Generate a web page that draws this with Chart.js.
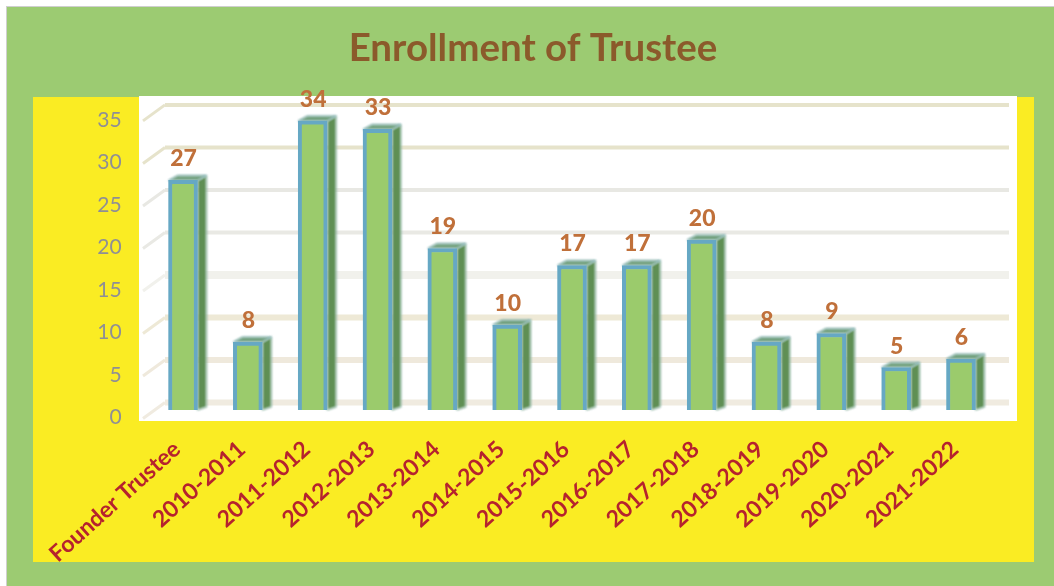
<!DOCTYPE html>
<html>
<head>
<meta charset="utf-8">
<title>Enrollment of Trustee</title>
<script src="https://cdn.jsdelivr.net/npm/chart.js@4"></script>
<style>
    html, body { margin: 0; padding: 0; background: #fff; }
    #page { position: relative; width: 1054px; height: 586px; overflow: hidden; }
    #page div { position: absolute; }
    #green { left: 6px; top: 6px; right: -2px; bottom: -2px; background: #9ccb72; border: 1px solid #cfcfcf; }
    #yellow { left: 33px; top: 97px; width: 1001px; height: 465px; background: #faec23; }
    #white { left: 139px; top: 96px; width: 878px; height: 325px; background: #fff; }
    canvas { position: absolute; left: 0; top: 0; }
</style>
</head>
<body>
<div id="page">
    <div id="green"></div>
    <div id="yellow"></div>
    <div id="white"></div>
    <canvas id="chart" width="1054" height="586"></canvas>
</div>
<script>
const categories = ['Founder Trustee', '2010-2011', '2011-2012', '2012-2013', '2013-2014', '2014-2015', '2015-2016',
    '2016-2017', '2017-2018', '2018-2019', '2019-2020', '2020-2021', '2021-2022'];
const trustees = [27, 8, 34, 33, 19, 10, 17, 17, 20, 8, 9, 5, 6];
const gridColors = ['#f0ebe0', '#efe9dc', '#eee9d6', '#f1f1ec', '#e9e9e4', '#e8e8e3', '#e6e3cb', '#e6e3cb'];
const gridWidths = [6, 6, 6, 8, 4, 4, 4, 4];

// fake 3D look: back wall lines, bar sides and value labels
const wallPlugin = {
    id: 'wall',
    beforeDatasetsDraw(chart) {
        const { ctx } = chart;
        const scale = chart.scales.y;
        ctx.save();
        ctx.filter = 'blur(0.7px)';
        scale.ticks.forEach((tick, i) => {
            const y = scale.getPixelForValue(tick.value);
            ctx.strokeStyle = gridColors[i];
            ctx.lineWidth = 3;
            ctx.beginPath();
            ctx.moveTo(143, y + 1);
            ctx.lineTo(165, y - 15);
            ctx.stroke();
            ctx.lineWidth = gridWidths[i];
            ctx.beginPath();
            ctx.moveTo(165, y - 15);
            ctx.lineTo(1009, y - 15);
            ctx.stroke();
        });
        ctx.restore();

        const bars = chart.getDatasetMeta(0).data;
        ctx.save();
        ctx.filter = 'blur(0.8px)';
        bars.forEach(bar => {
            const w = bar.width / 2;
            const left = bar.x - w;
            const right = bar.x + w;
            // side face
            ctx.fillStyle = '#5f8f54';
            ctx.strokeStyle = '#b4d2d6';
            ctx.lineWidth = 1;
            ctx.beginPath();
            ctx.moveTo(right, bar.y);
            ctx.lineTo(right + 9, bar.y - 5);
            ctx.lineTo(right + 9, bar.base - 3);
            ctx.lineTo(right, bar.base);
            ctx.closePath();
            ctx.fill();
            ctx.stroke();
            // top face
            ctx.fillStyle = '#72a07a';
            ctx.strokeStyle = '#8fbcc8';
            ctx.beginPath();
            ctx.moveTo(left, bar.y);
            ctx.lineTo(left + 9, bar.y - 5);
            ctx.lineTo(right + 9, bar.y - 5);
            ctx.lineTo(right, bar.y);
            ctx.closePath();
            ctx.fill();
            ctx.stroke();
        });
        ctx.restore();
        ctx.filter = 'blur(0.7px)';
    },
    afterDatasetsDraw(chart) {
        const { ctx } = chart;
        ctx.filter = 'none';
        ctx.save();
        ctx.font = '900 23px Lato';
        ctx.fillStyle = '#c0703a';
        ctx.textAlign = 'center';
        ctx.textBaseline = 'alphabetic';
        chart.getDatasetMeta(0).data.forEach((bar, i) => {
            ctx.fillText(trustees[i], bar.x + 0.5, bar.y - 14);
        });
        ctx.restore();
    }
};

new Chart(document.getElementById('chart'), {
    type: 'bar',
    data: {
        labels: categories,
        datasets: [{
            data: trustees,
            yAxisID: 'bars',
            backgroundColor: '#9bcb6c',
            borderColor: '#66a8c4',
            borderWidth: 4,
            barThickness: 29
        }]
    },
    options: {
        responsive: false,
        animation: false,
        layout: { padding: { left: 72.6, right: 60.6, top: 0, bottom: 0 } },
        plugins: {
            legend: { display: false },
            tooltip: { enabled: false },
            title: {
                display: true,
                text: 'Enrollment of Trustee',
                color: '#8b5a2b',
                font: { family: 'Lato', size: 38.5, weight: 'bold', lineHeight: 1.2 },
                padding: { top: 25, bottom: 48.7 }
            }
        },
        scales: {
            x: {
                grid: { display: false },
                border: { display: false },
                afterFit(scale) {
                    scale.height = 168.5;
                    scale.paddingLeft = 0;
                    scale.paddingRight = 0;
                },
                ticks: {
                    autoSkip: false,
                    minRotation: 42,
                    maxRotation: 42,
                    padding: 10,
                    labelOffset: -6,
                    color: '#b5222e',
                    font: { family: 'Lato', size: 23, weight: 'bold' }
                }
            },
            // visible axis, sits a few px below the bars like the original
            y: {
                min: 0,
                max: 35,
                afterFit(scale) { scale.width = 78; },
                grid: { display: false },
                border: { display: false },
                ticks: {
                    stepSize: 5,
                    padding: 21,
                    color: '#8f8f95',
                    font: { family: 'Lato', size: 21 }
                }
            },
            bars: {
                display: false,
                min: -0.88,
                max: 34.12
            }
        }
    },
    plugins: [wallPlugin]
});
</script>
</body>
</html>
